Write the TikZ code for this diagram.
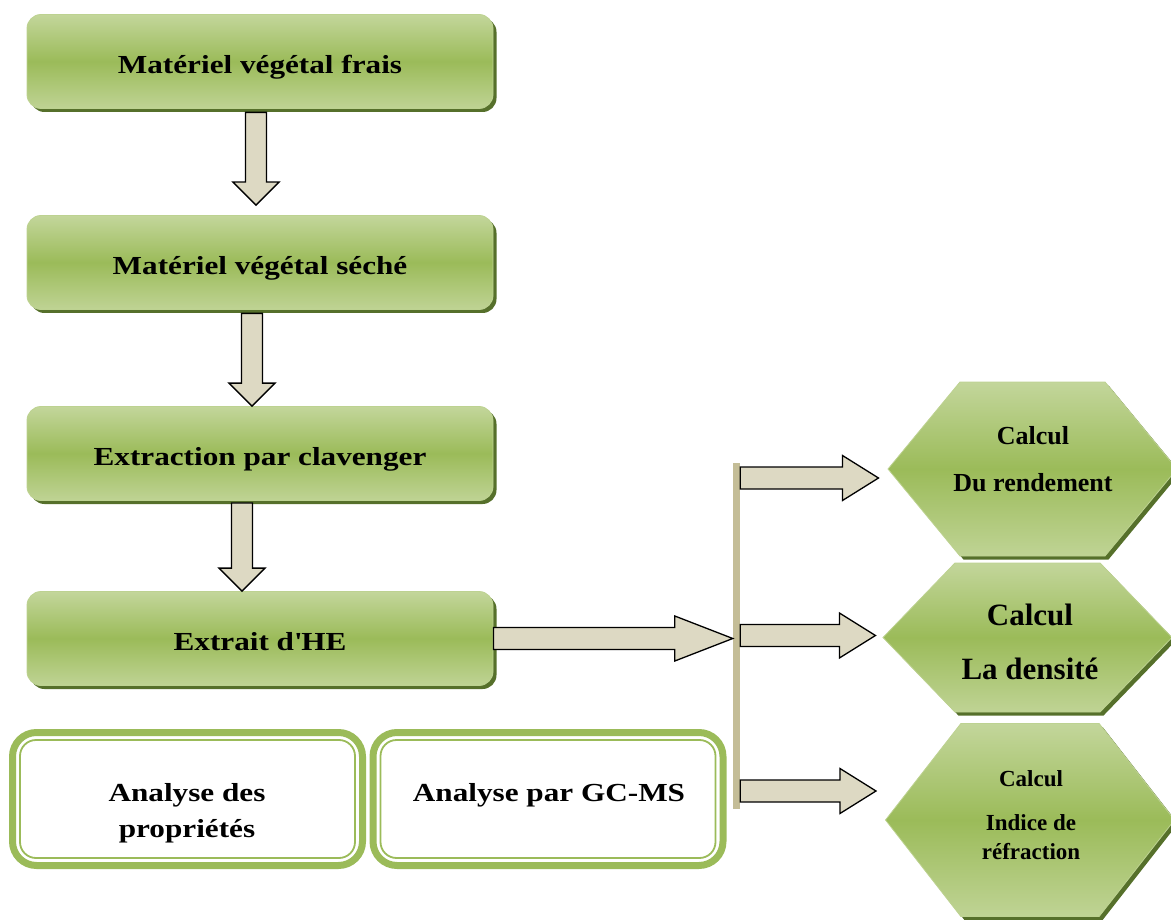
\documentclass[tikz,border=0pt]{standalone}
\usepackage{fontspec}
\setmainfont{Liberation Serif}
\newfontfamily\widefont{Liberation Serif}[FakeStretch=1.2]
\usetikzlibrary{shapes.symbols,shadows,calc}

\definecolor{lightgreen}{HTML}{C3D69B}
\definecolor{midgreen}{HTML}{9BBB59}
\definecolor{darkgreen}{HTML}{56702B}
\definecolor{arrowfill}{HTML}{DDD9C3}
\definecolor{bartan}{HTML}{C4BD97}

\begin{document}
\begin{tikzpicture}[x=1pt,y=-1pt,
    stepbox/.style={rounded corners=14pt, minimum width=466pt, minimum height=94pt,
        top color=lightgreen, bottom color=lightgreen!90!midgreen, middle color=midgreen,
        draw=lightgreen!85!midgreen, line width=.8pt,
        drop shadow={shadow xshift=3.5pt, shadow yshift=-3.5pt, fill=darkgreen, opacity=1},
        font=\widefont\bfseries\fontsize{26}{30}\selectfont, inner sep=0pt,
        text height=24pt, text depth=0pt},
    hexbox/.style={signal, signal to=west and east, minimum width=289pt, inner sep=0pt,
        top color=lightgreen, bottom color=lightgreen!90!midgreen, middle color=midgreen,
        draw=lightgreen!85!midgreen, line width=.8pt,
        drop shadow={shadow xshift=3.5pt, shadow yshift=-3.5pt, fill=darkgreen, opacity=1}},
    hextext/.style={align=center, inner sep=0pt, font=\bfseries},
    anabox/.style={draw=midgreen, line width=7pt, rounded corners=24pt, fill=white,
        minimum width=350pt, minimum height=133pt, inner sep=0pt},
    anainner/.style={draw=midgreen, line width=1.8pt, rounded corners=16pt},
    anatext/.style={align=center, inner sep=0pt,
        font=\widefont\bfseries\fontsize{26}{36}\selectfont},
    bar/.style={fill=bartan, minimum width=7pt, minimum height=346pt, inner sep=0pt},
    blockdown/.style={draw=black, line width=1.3pt, fill=arrowfill, line join=miter,
        to path={let \p1=(\tikztostart), \p2=(\tikztotarget) in
            (\x1-10.5pt,\y1) -- (\x1+10.5pt,\y1) -- (\x1+10.5pt,\y2+23pt)
            -- (\x1+23pt,\y2+23pt) -- (\x1,\y2) -- (\x1-23pt,\y2+23pt)
            -- (\x1-10.5pt,\y2+23pt) -- cycle}},
    blockright/.style={draw=black, line width=1.3pt, fill=arrowfill, line join=miter,
        to path={let \p1=(\tikztostart), \p2=(\tikztotarget) in
            (\x1,\y1+11pt) -- (\x2-#1,\y1+11pt) -- (\x2-#1,\y1+22.5pt)
            -- (\x2,\y1) -- (\x2-#1,\y1-22.5pt) -- (\x2-#1,\y1-11pt)
            -- (\x1,\y1-11pt) -- cycle}},
    blockright/.default=36pt]
    \useasboundingbox (0,0) rectangle (1171,920);

    % main chain
    \node[stepbox] (frais) at (260,61.5) {Matériel végétal frais};
    \node[stepbox] (seche) at (260,262.5) {Matériel végétal séché};
    \node[stepbox] (clav) at (260,453.5) {Extraction par clavenger};
    \node[stepbox] (extrait) at (260,638.5) {Extrait d\textquotesingle HE};

    \draw[blockdown] ([xshift=-4pt,yshift=-3.5pt]frais.south) to ([xshift=-4pt,yshift=10pt]seche.north);
    \draw[blockdown] ([xshift=-8pt,yshift=-3.5pt]seche.south) to ([xshift=-8pt]clav.north);
    \draw[blockdown] ([xshift=-18pt,yshift=-2pt]clav.south) to ([xshift=-18pt]extrait.north);

    % analyses
    \node[anabox] (propbox) at (187.5,799) {};
    \draw[anainner] ([shift={(11pt,-11pt)}]propbox.north west) rectangle ([shift={(-11pt,11pt)}]propbox.south east);
    \node[anatext] (prop) at (187,813) {Analyse des\\propriétés};
    \node[anabox] (gcbox) at (548,799) {};
    \draw[anainner] ([shift={(11pt,-11pt)}]gcbox.north west) rectangle ([shift={(-11pt,11pt)}]gcbox.south east);
    \node[anatext] (gcms) at (549,795) {Analyse par GC-MS};

    % calculs
    \node[bar] (bar) at (736.5,636) {};
    \draw[blockright=58pt] (extrait.east) to (bar.west |- extrait.east);

    \node[hexbox, minimum height=174pt, signal pointer angle=100.8] (rend) at (1032.5,469) {};
    \node[hexbox, minimum height=149pt, signal pointer angle=92] (dens) at (1027.5,637.5) {};
    \node[hexbox, minimum height=193pt, signal pointer angle=104] (refr) at (1030,820) {};
    \node[hextext, font=\bfseries\fontsize{26}{30}\selectfont] (rendtxt) at (1033,459) {Calcul\\[17pt]Du rendement};
    \node[hextext, font=\bfseries\fontsize{31}{36}\selectfont] (denstxt) at (1030,642) {Calcul\\[18pt]La densité};
    \node[hextext, font=\bfseries\fontsize{23}{29}\selectfont] (refrtxt) at (1031,815) {Calcul\\[15pt]Indice de\\réfraction};

    \coordinate (t1) at ([xshift=-9pt,yshift=-9pt]rend.west);
    \coordinate (t2) at ([xshift=-7pt,yshift=2pt]dens.west);
    \coordinate (t3) at ([xshift=-9pt,yshift=29pt]refr.west);
    \draw[blockright] (bar.east |- t1) to (t1);
    \draw[blockright] (bar.east |- t2) to (t2);
    \draw[blockright] (bar.east |- t3) to (t3);
\end{tikzpicture}
\end{document}
